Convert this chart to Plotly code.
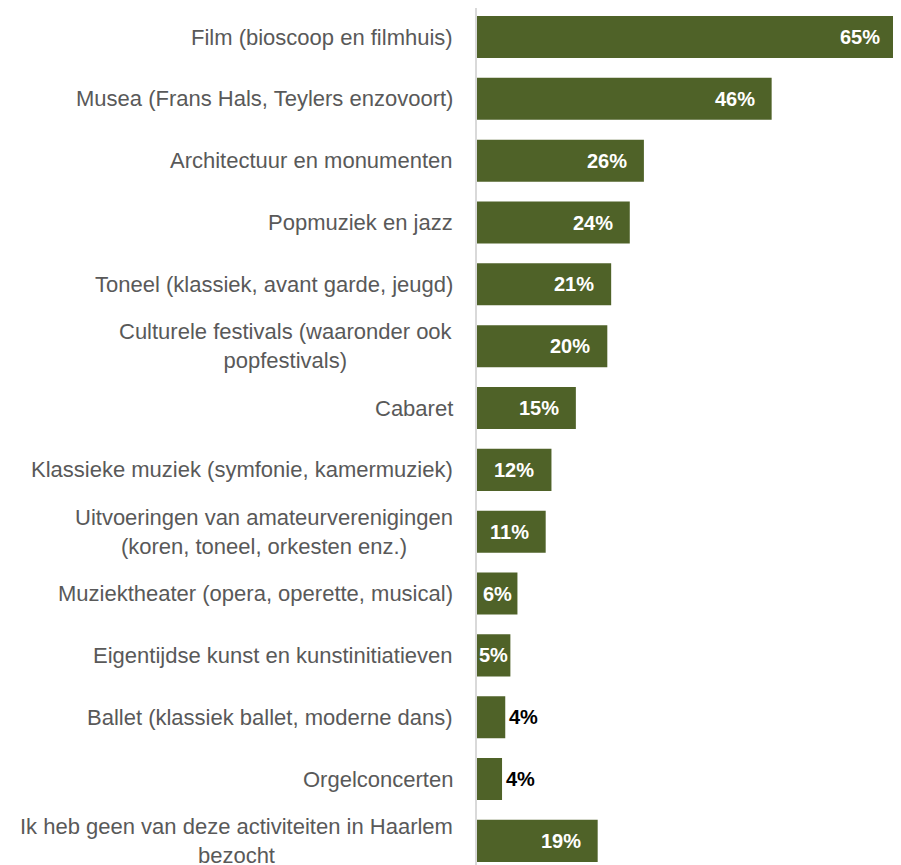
import plotly.graph_objects as go

categories = [
    "Film (bioscoop en filmhuis)",
    "Musea (Frans Hals, Teylers enzovoort)",
    "Architectuur en monumenten",
    "Popmuziek en jazz",
    "Toneel (klassiek, avant garde, jeugd)",
    "Culturele festivals (waaronder ook<br>popfestivals)",
    "Cabaret",
    "Klassieke muziek (symfonie, kamermuziek)",
    "Uitvoeringen van amateurverenigingen<br>(koren, toneel, orkesten enz.)",
    "Muziektheater (opera, operette, musical)",
    "Eigentijdse kunst en kunstinitiatieven",
    "Ballet (klassiek ballet, moderne dans)",
    "Orgelconcerten",
    "Ik heb geen van deze activiteiten in Haarlem<br>bezocht",
]
values = [65.4, 45.9, 26.0, 23.8, 20.9, 20.3, 15.4, 11.6, 10.7, 6.3, 5.2, 4.4, 3.9, 18.8]
labels = ["65%", "46%", "26%", "24%", "21%", "20%", "15%", "12%", "11%", "6%", "5%", "4%", "4%", "19%"]

BAR = "#4F6228"
FONT = "Liberation Sans, Arial, sans-serif"

fig = go.Figure()
fig.add_trace(go.Bar(
    y=list(range(len(categories))),
    x=values,
    orientation="h",
    width=0.68,
    marker=dict(color=BAR, line=dict(width=0)),
    hoverinfo="skip",
))

ann = []
for i, c in enumerate(categories):
    ann.append(dict(
        x=0, xref="paper", y=i, yref="y", text=c, showarrow=False,
        xanchor="right", yanchor="middle", align="center", xshift=-22,
        font=dict(family=FONT, size=22, color="#595959"),
    ))
for i, (v, t) in enumerate(zip(values, labels)):
    if v < 5:
        ann.append(dict(x=v, xref="x", y=i, yref="y", text="<b>%s</b>" % t, showarrow=False,
                        xanchor="left", yanchor="middle", xshift=2,
                        font=dict(family=FONT, size=20, color="#000000")))
    elif v < 8:
        ann.append(dict(x=v / 2, xref="x", y=i, yref="y", text="<b>%s</b>" % t, showarrow=False,
                        xanchor="center", yanchor="middle",
                        font=dict(family=FONT, size=20, color="#FFFFFF")))
    else:
        ann.append(dict(x=v, xref="x", y=i, yref="y", text="<b>%s</b>" % t, showarrow=False,
                        xanchor="right", yanchor="middle", xshift=-15,
                        font=dict(family=FONT, size=20, color="#FFFFFF")))

fig.update_layout(
    width=893, height=857,
    margin=dict(l=469, r=0, t=0, b=0),
    paper_bgcolor="white", plot_bgcolor="white",
    showlegend=False,
    annotations=ann,
    xaxis=dict(range=[0, 66.05], visible=False, fixedrange=True),
    yaxis=dict(range=[13.39, -0.469], showticklabels=False, ticks="", showgrid=False,
               zeroline=False, showline=True, linecolor="#D9D9D9", linewidth=1.5,
               fixedrange=True),
)
fig.write_html("out.html")
